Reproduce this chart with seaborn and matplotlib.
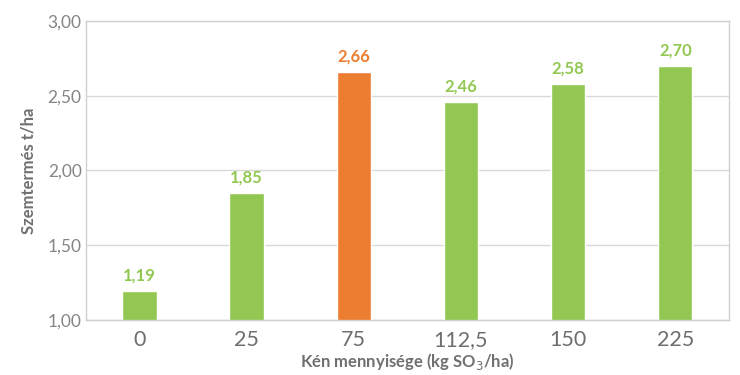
import matplotlib
matplotlib.use("Agg")
import matplotlib.pyplot as plt
import seaborn as sns
import pandas as pd

categories = ["0", "25", "75", "112,5", "150", "225"]
values = [1.19, 1.85, 2.66, 2.46, 2.58, 2.70]
value_labels = ["1,19", "1,85", "2,66", "2,46", "2,58", "2,70"]
y_ticks = [1.0, 1.5, 2.0, 2.5, 3.0]
y_tick_labels = ["1,00", "1,50", "2,00", "2,50", "3,00"]

GREEN = "#92C852"
ORANGE = "#ED7D31"
colors = [ORANGE if c == "75" else GREEN for c in categories]

sns.set_theme(style="white")
plt.rcParams["font.family"] = ["Lato", "DejaVu Sans"]

df = pd.DataFrame({"cat": categories, "val": values})

fig = plt.figure(figsize=(7.4, 3.75), dpi=100)
ax = fig.add_axes([0.116, 0.147, 0.869, 0.797])

sns.barplot(data=df, x="cat", y="val", hue="cat", palette=colors, legend=False,
            width=0.32, ax=ax, saturation=1, bottom=0)

ax.set_ylim(1.0, 3.0)
ax.set_xlim(-0.5, 5.5)
ax.set_yticks(y_ticks)
ax.set_yticklabels(y_tick_labels, color="#858585", fontsize=12.5)
ax.set_xticks(range(len(categories)))
ax.set_xticklabels(categories, color="#6E6E6E", fontsize=15.5)
ax.tick_params(axis="x", length=0, pad=7)
ax.tick_params(axis="y", length=0, pad=3)
ax.yaxis.grid(True, color="#D9D9D9", linewidth=1)
ax.set_axisbelow(True)
for s in ax.spines.values():
    s.set_color("#D0D0D0")
    s.set_linewidth(1)

for i, (v, lab, c) in enumerate(zip(values, value_labels, colors)):
    ax.text(i, v + 0.05, lab, ha="center", va="bottom", color=c,
            fontsize=12, fontweight="bold")

ax.set_ylabel("Szemtermés t/ha", color="#707070", fontsize=12, fontweight="bold", labelpad=8)
ax.set_xlabel("Kén mennyisége (kg SO$_3$/ha)", color="#707070", fontsize=12,
              fontweight="bold", labelpad=1)

fig.savefig("out.png", dpi=100)
